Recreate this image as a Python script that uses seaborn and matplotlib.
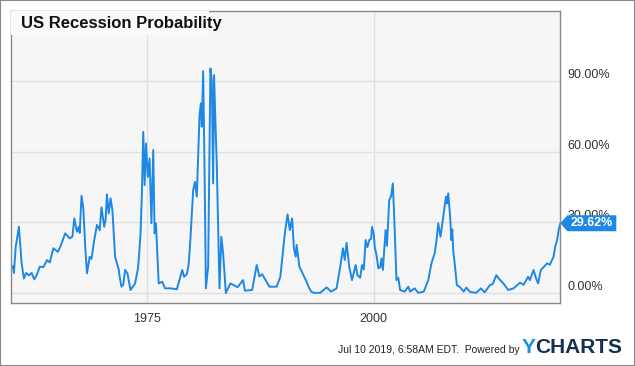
import pandas as pd
import numpy as np
import matplotlib.pyplot as plt
import matplotlib.patches as mpatches
import seaborn as sns

# values (decimal year, probability in %)
years = [
    1960.00, 1960.25, 1960.35, 1960.55, 1960.90, 1961.20, 1961.45, 1961.70, 1962.00, 1962.30,
    1962.60, 1962.90, 1963.20, 1963.60, 1964.00, 1964.30, 1964.70, 1965.20, 1965.50, 1966.00,
    1966.50, 1966.80, 1967.00, 1967.30, 1967.50, 1967.60, 1967.80, 1968.00, 1968.20, 1968.40,
    1968.70, 1968.90, 1969.20, 1969.50, 1969.80, 1970.00, 1970.30, 1970.45, 1970.60, 1970.80,
    1971.00, 1971.20, 1971.50, 1971.70, 1971.90, 1972.00, 1972.20, 1972.40, 1972.60, 1972.85,
    1973.20, 1973.70, 1974.00, 1974.10, 1974.30, 1974.45, 1974.60, 1974.75, 1974.90, 1975.10,
    1975.30, 1975.50, 1975.70, 1975.85, 1976.00, 1976.30, 1976.70, 1977.00, 1977.60, 1978.30,
    1978.90, 1979.10, 1979.40, 1979.60, 1979.80, 1980.10, 1980.30, 1980.50, 1980.80, 1980.95,
    1981.05, 1981.20, 1981.35, 1981.50, 1981.75, 1982.00, 1982.15, 1982.30, 1982.40, 1982.60,
    1982.70, 1983.00, 1983.20, 1983.40, 1983.70, 1984.20, 1984.50, 1985.00, 1985.60, 1985.80,
    1986.60, 1987.10, 1987.40, 1987.70, 1988.00, 1988.50, 1989.30, 1989.70, 1990.20, 1990.50,
    1990.75, 1991.00, 1991.20, 1991.40, 1991.50, 1991.80, 1992.20, 1992.60, 1992.80, 1993.10,
    1993.40, 1994.10, 1994.80, 1995.30, 1995.90, 1996.30, 1996.60, 1996.80, 1997.00, 1997.30,
    1997.60, 1998.00, 1998.20, 1998.50, 1998.70, 1998.90, 1999.10, 1999.30, 1999.50, 1999.70,
    1999.80, 2000.00, 2000.10, 2000.30, 2000.50, 2000.70, 2000.85, 2001.00, 2001.30, 2001.45,
    2001.70, 2001.90, 2002.10, 2002.30, 2002.50, 2002.70, 2002.90, 2003.40, 2003.80, 2004.00,
    2004.50, 2004.90, 2005.50, 2006.00, 2006.35, 2006.70, 2006.90, 2007.10, 2007.35, 2007.70,
    2007.95, 2008.05, 2008.20, 2008.40, 2008.55, 2008.65, 2008.75, 2008.95, 2009.15, 2009.50,
    2009.90, 2010.20, 2010.60, 2011.30, 2011.80, 2012.20, 2012.80, 2013.10, 2013.50, 2013.80,
    2014.30, 2014.80, 2015.40, 2016.10, 2016.50, 2017.00, 2017.20, 2017.60, 2017.90, 2018.10,
    2018.40, 2018.70, 2019.10, 2019.40, 2019.80, 2020.00, 2020.20, 2020.35, 2020.55,
]
probability = [
    10.5, 11.5, 8.5, 19.6, 28.1, 12.6, 6.2, 8.5, 7.5, 8.5,
    5.8, 8.0, 11.2, 11.0, 14.0, 13.0, 19.0, 17.5, 20.0, 25.3,
    23.2, 24.0, 31.7, 26.0, 28.1, 25.5, 41.3, 35.9, 20.0, 8.4,
    15.4, 14.5, 22.5, 28.9, 26.7, 36.4, 28.1, 31.0, 41.9, 33.8,
    40.2, 35.2, 15.4, 12.6, 10.0, 6.9, 2.7, 3.5, 9.8, 8.4,
    1.3, 4.1, 10.0, 14.0, 25.3, 42.3, 68.4, 45.8, 63.5, 49.3,
    57.1, 29.6, 60.7, 25.3, 29.6, 4.1, 4.8, 2.0, 2.0, 1.6,
    9.8, 6.9, 8.0, 12.0, 23.2, 43.7, 47.2, 40.9, 75.5, 80.5,
    70.6, 94.2, 53.6, 2.0, 11.2, 95.3, 90.0, 46.5, 92.5, 66.3,
    55.0, 2.0, 23.9, 16.8, 0.0, 4.1, 3.5, 2.5, 5.5, 1.0,
    1.3, 11.9, 7.0, 8.0, 6.0, 2.7, 2.7, 6.9, 25.3, 33.4,
    26.7, 31.7, 19.0, 15.4, 20.4, 11.2, 8.0, 4.8, 2.7, 0.6,
    0.1, 0.1, 2.4, 0.6, 2.0, 11.2, 19.0, 14.0, 21.3, 11.0,
    5.5, 11.9, 7.5, 6.5, 11.9, 10.0, 22.5, 19.5, 22.5, 23.0,
    28.1, 25.0, 19.6, 16.0, 10.5, 11.0, 14.7, 9.8, 26.7, 20.0,
    39.5, 41.0, 46.5, 27.0, 5.5, 6.5, 1.3, 0.6, 2.7, 0.6,
    2.0, 0.1, 0.6, 5.5, 12.6, 16.8, 22.0, 29.6, 23.9, 33.8,
    40.9, 38.0, 42.3, 33.0, 22.5, 27.0, 18.0, 11.2, 3.4, 2.5,
    0.6, 2.3, 0.5, 0.1, 2.0, 0.3, 3.4, 3.8, 7.6, 6.0,
    4.0, 1.3, 2.0, 4.4, 3.5, 6.9, 5.5, 9.8, 6.0, 4.1,
    9.8, 11.0, 12.6, 12.0, 15.4, 20.0, 22.5, 26.5, 29.62,
]
x_ticks = [1975, 2000]
y_ticks = [0, 30, 60, 90]
y_tick_labels = ["0.00%", "30.00%", "60.00%", "90.00%"]

df = pd.DataFrame({"year": years, "probability": probability})

sns.set_style("white")
plt.rcParams["font.family"] = ["Liberation Sans", "DejaVu Sans"]

line_color = "#1e88e5"
fig = plt.figure(figsize=(6.35, 3.66), dpi=100)
ax = fig.add_axes([0.0169, 0.172, 0.8655, 0.7987])
ax.set_facecolor("#f6f6f6")

sns.lineplot(data=df, x="year", y="probability", ax=ax, color=line_color, linewidth=1.4)

ax.set_xlim(1960.0, 2020.55)
ax.set_ylim(-4.24, 119.8)
ax.set_xticks(x_ticks)
ax.set_xticklabels([str(t) for t in x_ticks])
ax.set_yticks(y_ticks)
ax.set_yticklabels(y_tick_labels)
ax.yaxis.tick_right()
ax.tick_params(axis="both", length=0, labelsize=9, labelcolor="#333333")
ax.tick_params(axis="x", pad=7)
ax.tick_params(axis="y", pad=5)
for lbl in ax.get_yticklabels():
    lbl.set_va("bottom")
ax.grid(True, color="#e0e0e0", linewidth=1)
ax.set_axisbelow(True)
for sp in ax.spines.values():
    sp.set_color("#888888")
    sp.set_linewidth(1)
ax.set_xlabel("")
ax.set_ylabel("")

# title box
ax.add_patch(mpatches.Rectangle((0, 0.917), 0.361, 0.083, transform=ax.transAxes,
                                facecolor="#fafafa", edgecolor="none", zorder=3))
ax.text(0.019, 0.958, "US Recession Probability", transform=ax.transAxes,
        fontsize=12, fontweight="bold", color="#111111", va="center", ha="left", zorder=4)

# last value flag
last = probability[-1]
px, py = ax.transData.transform((ax.get_xlim()[1], last))
flag = mpatches.Polygon([(px, py), (px + 7, py + 8), (px + 56, py + 8),
                         (px + 56, py - 8), (px + 7, py - 8)], closed=True,
                        transform=None, facecolor=line_color, edgecolor="none",
                        zorder=5, clip_on=False)
fig.patches.append(flag)
fig.text((px + 31.5) / 635, py / 366, f"{last:.2f}%", color="white", fontsize=9,
         fontweight="bold", ha="center", va="center", zorder=6)

# footer
fig.text(0.818, 0.035, "Jul 10 2019, 6:58AM EDT.  Powered by", fontsize=7.5,
         color="#222222", ha="right", va="baseline")
fig.text(0.822, 0.035, "Y", fontsize=15, fontweight="bold", color="#1a8fe3",
         ha="left", va="baseline")
fig.text(0.843, 0.035, "CHARTS", fontsize=15, fontweight="bold", color="#14304f",
         ha="left", va="baseline")

fig.patches.append(mpatches.Rectangle((0, 0), 1, 1, transform=fig.transFigure,
                                      fill=False, edgecolor="#888888", linewidth=1.5))

fig.savefig("out.png", dpi=100, facecolor="white")
